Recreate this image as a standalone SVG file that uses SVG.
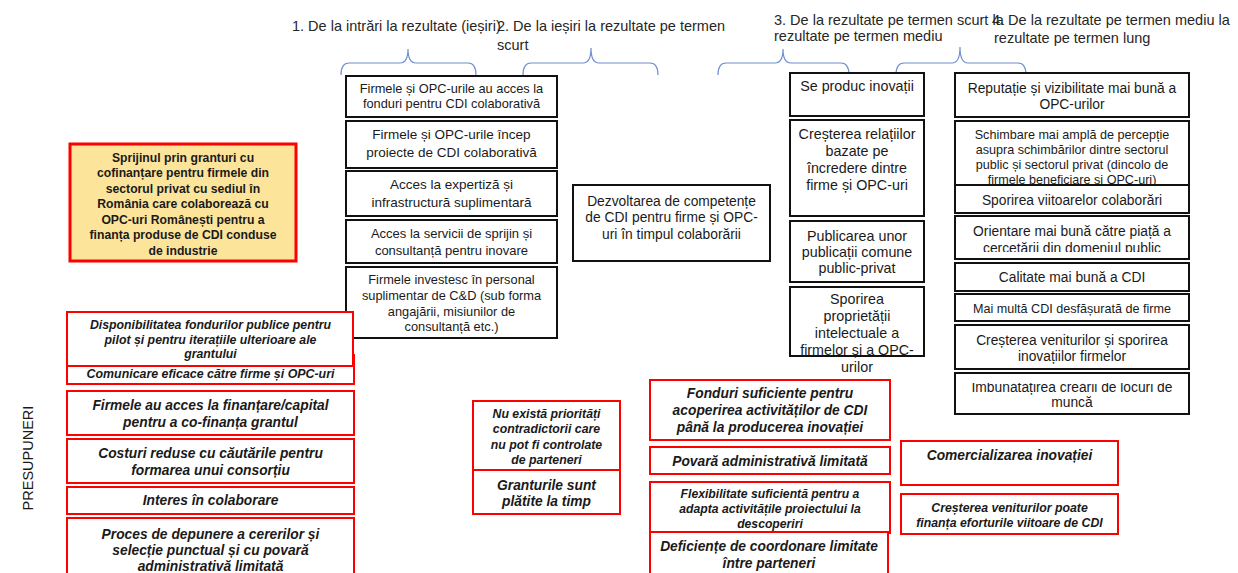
<svg xmlns="http://www.w3.org/2000/svg" width="1238" height="573" viewBox="0 0 1238 573">
<style>
text{font-family:"Liberation Sans",Arial,sans-serif;fill:#1a1a1a}
.hd{font-size:14.5px;fill:#262626}
.bb{fill:#fff;stroke:#111;stroke-width:2}
.rb{fill:#fff;stroke:#f00;stroke-width:2}
.yb{fill:#fde49b;stroke:#f00;stroke-width:3}
.br{fill:none;stroke:#6f8fce;stroke-width:1.2}
.c{text-anchor:middle}
.ri{font-weight:bold;font-style:italic;text-anchor:middle}
</style>
<defs>
<clipPath id="clipOr"><rect x="950" y="210" width="250" height="42"/></clipPath>
<clipPath id="clipIm"><rect x="950" y="383" width="250" height="40"/></clipPath>
</defs>
<g id="headers">
<text class="hd" x="292" y="31">1. De la intrări la rezultate (ieșiri)</text>
<text class="hd" x="497" y="31">2. De la ieșiri la rezultate pe termen</text>
<text class="hd" x="497" y="50">scurt</text>
<text class="hd" x="774" y="25">3. De la rezultate pe termen scurt la</text>
<text class="hd" x="774" y="41">rezultate pe termen mediu</text>
<text class="hd" x="992" y="25" font-size="14.2">4. De la rezultate pe termen mediu la</text>
<text class="hd" x="994" y="43" font-size="14.2">rezultate pe termen lung</text>
</g>
<g id="connectors">
<path class="br" d="M341,75 Q341,63 349,63 L400,63 Q408,63 408,49 Q408,63 416,63 L468,63 Q476,63 476,75"/>
<path class="br" d="M523,75 Q523,63 531,63 L583,63 Q591,63 591,48 Q591,63 599,63 L650,63 Q658,63 658,75"/>
<path class="br" d="M718,75 Q718,63 726,63 L775,63 Q783,63 783,49 Q783,63 791,63 L841,63 Q849,63 849,75"/>
<path class="br" d="M896,75 Q896,63 904,63 L952,63 Q960,63 960,47 Q960,63 968,63 L1018,63 Q1026,63 1026,75"/>
</g>
<g id="n-A"><rect class="bb" x="346" y="76" width="211" height="41"/>
<text class="c" x="451.5" y="93" font-size="12.8">Firmele și OPC-urile au acces la</text>
<text class="c" x="451.5" y="108" font-size="12.8">fonduri pentru CDI colaborativă</text></g>
<g id="n-B"><rect class="bb" x="346" y="121" width="211" height="47"/>
<text class="c" x="451.5" y="139" font-size="13.5">Firmele și OPC-urile încep</text>
<text class="c" x="451.5" y="157" font-size="13.5">proiecte de CDI colaborativă</text></g>
<g id="n-C"><rect class="bb" x="346" y="171" width="211" height="45"/>
<text class="c" x="451.5" y="189" font-size="13.5">Acces la expertiză și</text>
<text class="c" x="451.5" y="207" font-size="13.5">infrastructură suplimentară</text></g>
<g id="n-D"><rect class="bb" x="346" y="220" width="211" height="43"/>
<text class="c" x="451.5" y="237.5" font-size="13">Acces la servicii de sprijin și</text>
<text class="c" x="451.5" y="254.5" font-size="13">consultanță pentru inovare</text></g>
<g id="n-E"><rect class="bb" x="346" y="267" width="211" height="71"/>
<text class="c" x="451.5" y="283.5" font-size="12.8">Firmele investesc în personal</text>
<text class="c" x="451.5" y="299.5" font-size="12.8">suplimentar de C&amp;D (sub forma</text>
<text class="c" x="451.5" y="315.5" font-size="12.8">angajării, misiunilor de</text>
<text class="c" x="451.5" y="330.5" font-size="12.8">consultanță etc.)</text></g>
<g id="n-dezv"><rect class="bb" x="573" y="185" width="197" height="76"/>
<text class="c" x="671.5" y="206" font-size="13.8">Dezvoltarea de competențe</text>
<text class="c" x="671.5" y="222" font-size="13.8">de CDI pentru firme și OPC-</text>
<text class="c" x="671.5" y="239" font-size="13.8">uri în timpul colaborării</text></g>
<g id="n-inov"><rect class="bb" x="790" y="73" width="134" height="43"/>
<text class="c" x="857" y="91" font-size="14.3">Se produc inovații</text></g>
<g id="n-rel"><rect class="bb" x="790" y="120" width="134" height="96"/>
<text class="c" x="857" y="139" font-size="14.3">Creșterea relațiilor</text>
<text class="c" x="857" y="156" font-size="14.3">bazate pe</text>
<text class="c" x="857" y="173" font-size="14.3">încredere dintre</text>
<text class="c" x="857" y="190" font-size="14.3">firme și OPC-uri</text></g>
<g id="n-pub"><rect class="bb" x="790" y="221" width="134" height="61"/>
<text class="c" x="857" y="241" font-size="14.3">Publicarea unor</text>
<text class="c" x="857" y="257" font-size="14.3">publicații comune</text>
<text class="c" x="857" y="273" font-size="14.3">public-privat</text></g>
<g id="n-prop"><rect class="bb" x="790" y="287" width="134" height="69"/>
<text class="c" x="857" y="304" font-size="14.3">Sporirea</text>
<text class="c" x="857" y="321" font-size="14.3">proprietății</text>
<text class="c" x="857" y="338" font-size="14.3">intelectuale a</text>
<text class="c" x="857" y="355" font-size="14.3">firmelor și a OPC-</text>
<text class="c" x="857" y="372" font-size="14.3">urilor</text></g>
<g id="n-rep"><rect class="bb" x="955" y="73" width="234" height="44"/>
<text class="c" x="1072" y="93" font-size="13.8">Reputație și vizibilitate mai bună a</text>
<text class="c" x="1072" y="109" font-size="13.8">OPC-urilor</text></g>
<g id="n-schimb"><rect class="bb" x="955" y="121" width="234" height="64"/>
<text class="c" x="1072" y="138.5" font-size="12.6">Schimbare mai amplă de percepție</text>
<text class="c" x="1072" y="153.5" font-size="12.6">asupra schimbărilor dintre sectorul</text>
<text class="c" x="1072" y="168.5" font-size="12.6">public și sectorul privat (dincolo de</text>
<text class="c" x="1072" y="183.5" font-size="12.6">firmele beneficiare și OPC-uri)</text></g>
<g id="n-colab"><rect class="bb" x="955" y="185" width="234" height="28"/>
<text class="c" x="1072" y="205" font-size="13.8">Sporirea viitoarelor colaborări</text></g>
<g id="n-orient"><rect class="bb" x="955" y="216" width="234" height="43"/>
<text class="c" x="1072" y="236" font-size="13.8">Orientare mai bună către piață a</text>
<text class="c" x="1072" y="253" font-size="13.8" clip-path="url(#clipOr)">cercetării din domeniul public</text></g>
<g id="n-cal"><rect class="bb" x="955" y="263" width="234" height="28"/>
<text class="c" x="1072" y="282" font-size="13.8">Calitate mai bună a CDI</text></g>
<g id="n-mai"><rect class="bb" x="955" y="294" width="234" height="27"/>
<text class="c" x="1072" y="312.5" font-size="12.6">Mai multă CDI desfășurată de firme</text></g>
<g id="n-ven"><rect class="bb" x="955" y="325" width="234" height="44"/>
<text class="c" x="1072" y="345" font-size="13.8">Creșterea veniturilor și sporirea</text>
<text class="c" x="1072" y="361" font-size="13.8">inovațiilor firmelor</text></g>
<g id="n-loc"><rect class="bb" x="955" y="373" width="234" height="41"/>
<text class="c" x="1072" y="392" font-size="13.8" clip-path="url(#clipIm)">Îmbunătățirea creării de locuri de</text>
<text class="c" x="1072" y="407" font-size="13.8">muncă</text></g>
<g id="n-grant"><rect class="yb" x="70" y="144" width="226" height="117"/>
<g font-size="12.2" font-weight="bold">
<text class="c" x="183" y="161.5">Sprijinul prin granturi cu</text>
<text class="c" x="183" y="177">cofinanțare pentru firmele din</text>
<text class="c" x="183" y="192.5">sectorul privat cu sediul în</text>
<text class="c" x="183" y="208">România care colaborează cu</text>
<text class="c" x="183" y="223.5">OPC-uri Românești pentru a</text>
<text class="c" x="183" y="239">finanța produse de CDI conduse</text>
<text class="c" x="183" y="254.5">de industrie</text></g></g>
<g id="n-comun"><rect class="rb" x="67" y="355" width="287" height="29"/>
<text class="ri" x="210.5" y="377.5" font-size="12.4">Comunicare eficace către firme și OPC-uri</text></g>
<g id="n-disp"><rect class="rb" x="67" y="312" width="286" height="54"/>
<text class="ri" x="210.5" y="328.5" font-size="12.3">Disponibilitatea fondurilor publice pentru</text>
<text class="ri" x="210.5" y="343.5" font-size="12.3">pilot și pentru iterațiile ulterioare ale</text>
<text class="ri" x="210.5" y="357.5" font-size="12.3">grantului</text></g>
<g id="n-fin"><rect class="rb" x="67" y="391" width="287" height="44"/>
<text class="ri" x="210.5" y="410" font-size="13.8">Firmele au acces la finanțare/capital</text>
<text class="ri" x="210.5" y="427" font-size="13.8">pentru a co-finanța grantul</text></g>
<g id="n-cost"><rect class="rb" x="67" y="439" width="287" height="44"/>
<text class="ri" x="210.5" y="458" font-size="13.8">Costuri reduse cu căutările pentru</text>
<text class="ri" x="210.5" y="475" font-size="13.8">formarea unui consorțiu</text></g>
<g id="n-int"><rect class="rb" x="67" y="487" width="287" height="27"/>
<text class="ri" x="210.5" y="505" font-size="13.8">Interes în colaborare</text></g>
<g id="n-proc"><rect class="rb" x="67" y="518" width="287" height="70"/>
<text class="ri" x="210.5" y="539" font-size="13.8">Proces de depunere a cererilor și</text>
<text class="ri" x="210.5" y="555" font-size="13.8">selecție punctual și cu povară</text>
<text class="ri" x="210.5" y="571" font-size="13.8">administrativă limitată</text></g>
<g id="n-prior"><rect class="rb" x="473" y="401" width="147" height="69"/>
<text class="ri" x="546.5" y="417.5" font-size="12.3">Nu există priorități</text>
<text class="ri" x="546.5" y="432.5" font-size="12.3">contradictorii care</text>
<text class="ri" x="546.5" y="448.5" font-size="12.3">nu pot fi controlate</text>
<text class="ri" x="546.5" y="463.5" font-size="12.3">de parteneri</text></g>
<g id="n-plat"><rect class="rb" x="473" y="470" width="147" height="44"/>
<text class="ri" x="546.5" y="490" font-size="13.8">Granturile sunt</text>
<text class="ri" x="546.5" y="506" font-size="13.8">plătite la timp</text></g>
<g id="n-fond"><rect class="rb" x="650" y="380" width="240" height="60"/>
<text class="ri" x="770" y="398" font-size="13.8">Fonduri suficiente pentru</text>
<text class="ri" x="770" y="415" font-size="13.8">acoperirea activităților de CDI</text>
<text class="ri" x="770" y="432" font-size="13.8">până la producerea inovației</text></g>
<g id="n-pov"><rect class="rb" x="650" y="447" width="240" height="27"/>
<text class="ri" x="770" y="466" font-size="13.8">Povară administrativă limitată</text></g>
<g id="n-flex"><rect class="rb" x="650" y="482" width="240" height="51"/>
<text class="ri" x="770" y="498" font-size="12.2">Flexibilitate suficientă pentru a</text>
<text class="ri" x="770" y="512.5" font-size="12.2">adapta activitățile proiectului la</text>
<text class="ri" x="770" y="528" font-size="12.2">descoperiri</text></g>
<g id="n-def"><rect class="rb" x="650" y="532" width="238" height="58"/>
<text class="ri" x="769" y="551" font-size="13.8">Deficiențe de coordonare limitate</text>
<text class="ri" x="769" y="568" font-size="13.8">între parteneri</text></g>
<g id="n-com"><rect class="rb" x="901" y="441" width="217" height="44"/>
<text class="ri" x="1009.5" y="460" font-size="13.8">Comercializarea inovației</text></g>
<g id="n-venf"><rect class="rb" x="901" y="494" width="217" height="40"/>
<text class="ri" x="1009.5" y="511.5" font-size="12.3">Creșterea veniturilor poate</text>
<text class="ri" x="1009.5" y="526.5" font-size="12.3">finanța eforturile viitoare de CDI</text></g>
<g id="label-presup">
<text class="c" transform="translate(33,458) rotate(-90)" font-size="14.5" fill="#111">PRESUPUNERI</text></g>
</svg>
